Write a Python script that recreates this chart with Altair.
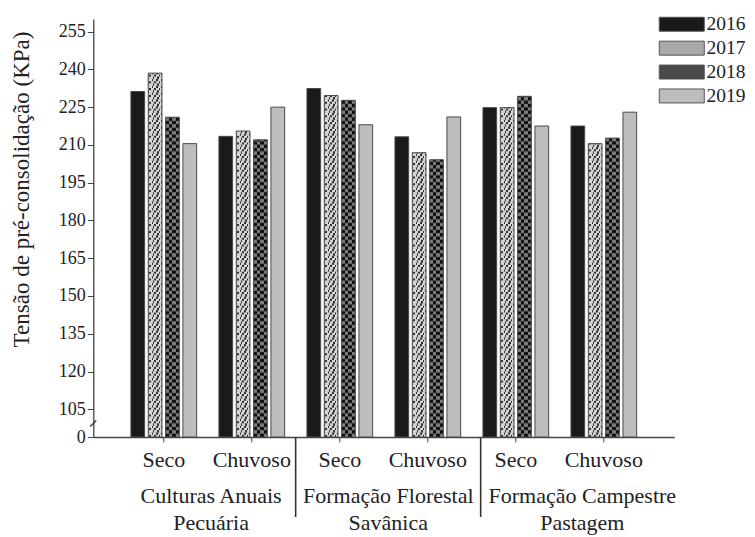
import altair as alt
import pandas as pd

# ---------------- data ----------------
groups = ["Culturas Anuais", "Formação Florestal", "Formação Campestre"]
subgroups = ["Pecuária", "Savânica", "Pastagem"]
seasons = ["Seco", "Chuvoso"]
years = ["2016", "2017", "2018", "2019"]
# order: group1 Seco, group1 Chuvoso, group2 Seco, group2 Chuvoso, group3 Seco, group3 Chuvoso
v2016 = [231.2, 213.4, 232.4, 213.2, 224.8, 217.5]
v2017 = [238.5, 215.5, 229.6, 206.9, 224.8, 210.5]
v2018 = [221.0, 212.0, 227.7, 204.1, 229.3, 212.7]
v2019 = [210.5, 225.0, 218.0, 221.1, 217.5, 223.0]
y_ticks = [105, 120, 135, 150, 165, 180, 195, 210, 225, 240, 255]
BASE = 94          # broken-axis baseline, labelled "0"
TOP = 260

keys = [f"{g}|{s}" for g in groups for s in seasons]
series = {"2016": v2016, "2017": v2017, "2018": v2018, "2019": v2019}
rows = []
for yr in years:
    for k, v in zip(keys, series[yr]):
        rows.append({"key": k, "year": yr, "value": v})
df = pd.DataFrame(rows)
glab = pd.DataFrame({"key": [f"{g}|Seco" for g in groups],
                     "label": [f"{g}\n{s}" for g, s in zip(groups, subgroups)]})

FONT = "Liberation Serif, Times New Roman, Times, serif"
TXT = "#222222"

xs = alt.Scale(domain=keys, paddingInner=0.2125, paddingOuter=0.407)
xos = alt.Scale(domain=years, paddingInner=0.208, paddingOuter=0.104)
ys = alt.Scale(domain=[BASE, TOP], nice=False, zero=False)

xaxis = alt.Axis(title=None, labelExpr="split(datum.label, '|')[1]", labelFont=FONT,
                 labelFontSize=22, labelColor=TXT, labelPadding=7, tickSize=5,
                 domainColor="#444", tickColor="#444", domainWidth=1.3, labelAngle=0,
                 labelOverlap=False)
yaxis = alt.Axis(values=[BASE] + y_ticks, labelExpr="datum.value < 100 ? '0' : datum.label",
                 title="Tensão de pré-consolidação (KPa)", titleFont=FONT, titleFontSize=23,
                 titleFontWeight="normal", titleColor=TXT, titleX=-71.7, titleY=170,
                 titleBaseline="middle", titleAlign="center", titleAngle=-90,
                 labelFont=FONT, labelFontSize=18, labelColor=TXT, labelPadding=2,
                 labelOverlap=False, tickSize=6, grid=False, domainColor="#444",
                 tickColor="#444", domainWidth=1.3)


def X(bp=None):
    if bp is None:
        return alt.X("key:N", scale=xs, axis=xaxis)
    return alt.X("key:N", scale=xs, axis=xaxis, bandPosition=bp)


XO = alt.XOffset("year:N", scale=xos)

base = alt.Chart(df)

bars = base.mark_bar(strokeWidth=0).encode(
    x=X(), xOffset=XO,
    y=alt.Y("value:Q", scale=ys, axis=yaxis),
    y2=alt.datum(BASE),
    color=alt.Color("year:N", scale=alt.Scale(domain=years,
                    range=["#1a1a1a", "#a9a9a9", "#4a4a4a", "#bdbdbd"]),
                    legend=alt.Legend(orient="none", legendX=578.7, legendY=-4.5, title=None,
                                      symbolType="M-3,-0.93L3,-0.93L3,0.93L-3,0.93Z",
                                      symbolSize=225, labelFont=FONT, labelFontSize=19.5,
                                      labelColor=TXT, labelOffset=15, rowPadding=2.9,
                                      padding=0, symbolStrokeColor="#555",
                                      symbolStrokeWidth=1, symbolOpacity=1)),
)


def stripe_grad(segments, bg, fg):
    stops = [alt.GradientStop(color=bg, offset=0)]
    for a, b in segments:
        stops += [alt.GradientStop(color=bg, offset=a), alt.GradientStop(color=fg, offset=a),
                  alt.GradientStop(color=fg, offset=b), alt.GradientStop(color=bg, offset=b)]
    stops.append(alt.GradientStop(color=bg, offset=1))
    return alt.LinearGradient(gradient="linear", stops=stops, x1=0, x2=1, y1=0, y2=0)


def texture(year, step, phases, grads):
    layers = []
    for ph, g in zip(range(phases), grads):
        layers.append(
            base.transform_filter(alt.datum.year == year)
            .transform_calculate(idx=f"sequence(0, ceil((datum.value - {BASE}) / {step}))")
            .transform_flatten(["idx"])
            .transform_calculate(r0=f"{BASE} + datum.idx * {step}",
                                 r1=f"min({BASE} + (datum.idx + 1) * {step}, datum.value)",
                                 ph=f"datum.idx % {phases}")
            .transform_filter(f"datum.ph == {ph}")
            .mark_bar(fill=g, strokeWidth=0)
            .encode(x=X(), xOffset=XO,
                    y=alt.Y("r1:Q", scale=ys, axis=yaxis), y2=alt.Y2("r0:Q"))
        )
    return layers


chk_dark, chk_light = "#121212", "#7a7a7a"
checkA = stripe_grad([(0, 0.25), (0.5, 0.75)], chk_light, chk_dark)
checkB = stripe_grad([(0.25, 0.5), (0.75, 1.0)], chk_light, chk_dark)
dot_bg, dot_fg = "#d6d6d6", "#303030"
dotA = stripe_grad([(0.06, 0.18), (0.42, 0.54), (0.76, 0.88)], dot_bg, dot_fg)
dotB = stripe_grad([(0.24, 0.36), (0.58, 0.70), (0.90, 1.0)], dot_bg, dot_fg)
dotC = stripe_grad([(0.0, 0.08), (0.32, 0.44), (0.66, 0.78)], dot_bg, dot_fg)

tex18 = texture("2018", 1.35, 2, [checkA, checkB])
tex17 = texture("2017", 0.9, 3, [dotA, dotB, dotC])

outline = base.mark_bar(fill="#ffffff", fillOpacity=0, stroke="#4a4a4a", strokeWidth=1).encode(
    x=X(), xOffset=XO, y=alt.Y("value:Q", scale=ys, axis=yaxis), y2=alt.datum(BASE))

brk = alt.Chart(pd.DataFrame({"k": [0]})).mark_rule(color="#333", strokeWidth=1.3).encode(
    x=alt.value(-3), x2=alt.value(3),
    y=alt.Y(datum=98.2, type="quantitative", scale=ys, axis=yaxis), y2=alt.datum(100.6))

lab_chart = alt.Chart(glab)
label_layers = []
for g, dx in zip(groups, [47.3, 48.5, 66.5]):
    label_layers.append(
        lab_chart.transform_filter(alt.datum.key == f"{g}|Seco")
        .mark_text(baseline="top", align="center", lineBreak="\n", lineHeight=26.7,
                   fontSize=22, font=FONT, color=TXT, dx=dx)
        .encode(x=X(), y=alt.value(466.9), text="label:N"))

sep_layers = []
for g, off in zip(groups[1:], [-9.5, -0.5]):
    sep_layers.append(
        lab_chart.transform_filter(alt.datum.key == f"{g}|Seco")
        .mark_rule(color="#333", strokeWidth=1.6, xOffset=off)
        .encode(x=X(0), y=alt.value(418), y2=alt.value(498)))

chart = alt.layer(bars, *tex17, *tex18, outline, brk, *label_layers, *sep_layers).properties(
    width=581, height=418,
    autosize=alt.AutoSizeParams(type="none"),
    padding={"left": 85.3, "top": 11, "right": 72.7, "bottom": 100},
    background="white",
).configure_view(stroke=None)

chart.save("out.html", embed_options={"renderer": "svg", "actions": False})
